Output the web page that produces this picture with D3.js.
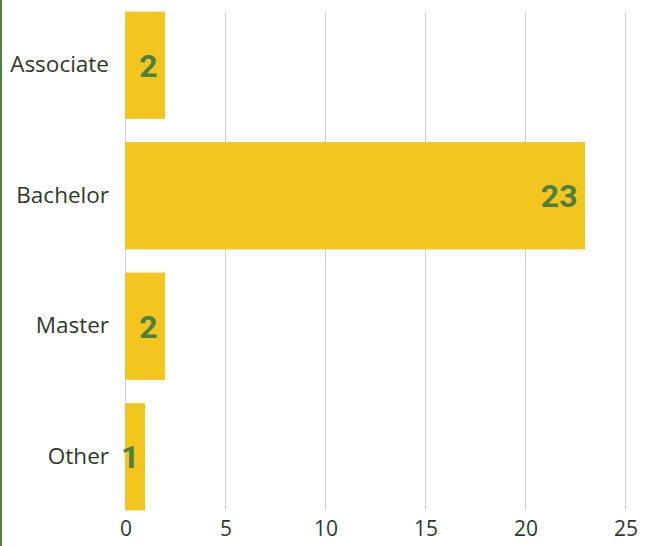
<!DOCTYPE html>
<html><head><meta charset="utf-8">
<script src="https://cdn.jsdelivr.net/npm/d3@7"></script>
<style>
html,body{margin:0;padding:0;background:#fff;}
svg{display:block;}
.val{font-variant-numeric: proportional-nums; font-feature-settings: "pnum" 1;}
</style></head>
<body>
<script>
const categories = ["Associate", "Bachelor", "Master", "Other"];
const values = [2, 23, 2, 1];
const tickValues = [0, 5, 10, 15, 20, 25];

const W = 646, H = 546;
const svg = d3.select("body").append("svg").attr("width", W).attr("height", H);

// left green border
svg.append("rect").attr("x", 0).attr("y", 0).attr("width", 2).attr("height", H).attr("fill", "#4f7f45");

const x = d3.scaleLinear().domain([0, 25]).range([125, 625]);
const y = d3.scaleBand().domain(categories).range([0, 522]).paddingInner(0.178).paddingOuter(0.089);

const gTop = y(categories[0]);
const gBot = y(categories[categories.length - 1]) + y.bandwidth();

// gridlines
svg.append("g").selectAll("line").data(tickValues).join("line")
  .attr("x1", d => x(d) + 0.5).attr("x2", d => x(d) + 0.5)
  .attr("y1", gTop).attr("y2", gBot)
  .attr("stroke", "#d4d4d4").attr("stroke-width", 1);

// bars
svg.append("g").selectAll("rect").data(values).join("rect")
  .attr("x", x(0))
  .attr("y", (d, i) => y(categories[i]))
  .attr("width", d => x(d) - x(0))
  .attr("height", y.bandwidth())
  .attr("fill", "#f2c51f");

// value labels
svg.append("g").selectAll("text").data(values).join("text")
  .attr("class", "val")
  .attr("x", d => x(d) - 7.5)
  .attr("y", (d, i) => y(categories[i]) + y.bandwidth() / 2)
  .attr("dy", "0.36em")
  .attr("text-anchor", "end")
  .attr("font-family", "Roboto, sans-serif")
  .attr("font-weight", 700)
  .attr("font-size", 32)
  .attr("fill", "#4e7f3f")
  .text(d => d);

// category axis labels
svg.append("g").selectAll("text").data(categories).join("text")
  .attr("x", 109)
  .attr("y", d => y(d) + y.bandwidth() / 2)
  .attr("dy", "0.3em")
  .attr("text-anchor", "end")
  .attr("font-family", "'Open Sans', sans-serif")
  .attr("font-size", 22.5)
  .attr("fill", "#2b3a2b")
  .text(d => d);

// x axis tick labels
const xAxis = d3.axisBottom(x).tickValues(tickValues).tickSize(0).tickPadding(0);
const ax = svg.append("g").attr("transform", `translate(0.5, ${gBot + 11})`).call(xAxis);
ax.select(".domain").remove();
ax.selectAll("text")
  .attr("font-family", "'Open Sans', sans-serif")
  .attr("font-size", 21)
  .attr("fill", "#2b3a2b");
</script>
</body></html>
